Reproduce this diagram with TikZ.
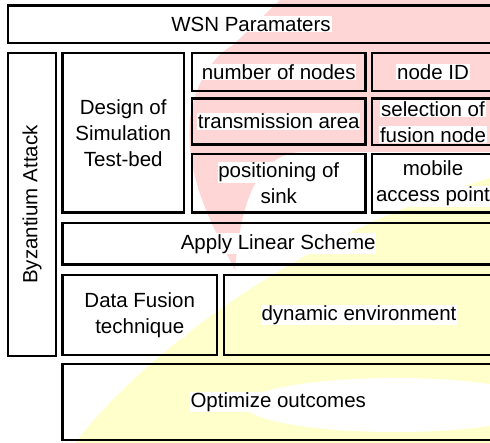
\documentclass[tikz,border=0pt]{standalone}
\usepackage{fontspec}
\setmainfont{Liberation Sans}
\definecolor{wmpink}{RGB}{255,214,214}
\definecolor{wmyellow}{RGB}{255,255,204}
\newcommand{\wbg}[1]{{\setlength{\fboxsep}{0.8pt}\colorbox{white}{#1}}}

\begin{document}
\begin{tikzpicture}[x=1pt,y=-1pt,font=\fontsize{20.5}{26}\selectfont]

\tikzset{box/.style={draw=black,line width=2.9pt,inner sep=0pt,align=center},
labelnode/.style={inner sep=0pt,align=center}}

\useasboundingbox[fill=white] (0,0) rectangle (490,443);

% Watermark behind the boxes
\fill[wmyellow] (75,443) .. controls (130,370) and (280,240) .. (490,178) -- (490,443) -- cycle;
\fill[white] (395,405) ellipse [x radius=150pt, y radius=27pt];
\fill[wmpink] (233,45) -- (280,0) -- (490,0) -- (490,152) -- (300,152) .. controls (265,155) and (242,185) .. (235,270) .. controls (215,230) and (185,180) .. (190,120) .. controls (195,80) and (215,55) .. cycle;

% Top row
\node[box,minimum width=486,minimum height=37.5] (wsn) at (251,24.25) {\wbg{WSN Paramaters}};

% Side column
\node[box,minimum width=48,minimum height=303] (byz) at (32,204.5) {};
\node[labelnode,rotate=90] (byzlabel) at (byz.center) {\wbg{Byzantium Attack}};

% Simulation test-bed and its parameters
\node[box,minimum width=121.5,minimum height=159.5] (design) at (123.25,132.75) {\wbg{Design of}\\\wbg{Simulation}\\\wbg{Test-bed}};
\node[box,minimum width=173.5,minimum height=38] (nnodes) at (278.75,72) {\wbg{number of nodes}};
\node[box,minimum width=122,minimum height=38] (nodeid) at (433,72) {\wbg{node ID}};
\node[box,minimum width=173.5,minimum height=46] (transarea) at (278.75,121.5) {\wbg{transmission area}};
\node[box,minimum width=122,minimum height=46.5] (fusionsel) at (433,121.75) {\wbg{selection of}\\\wbg{fusion node}};
\node[box,minimum width=173.5,minimum height=58.5] (sinkpos) at (278.75,183.25) {\wbg{positioning of}\\\wbg{sink}};
\node[box,minimum width=122,minimum height=58.5] (mobileap) at (433,183.25) {\wbg{mobile}\\\wbg{access point}};

% Lower rows
\node[box,minimum width=431.5,minimum height=41.5] (linear) at (278.25,243.75) {\wbg{Apply Linear Scheme}};
\node[box,minimum width=154.5,minimum height=80] (datafusion) at (139.75,315) {\wbg{Data Fusion}\\\wbg{technique}};
\node[box,minimum width=270,minimum height=80] (dynenv) at (359,315) {\wbg{dynamic environment}};
\node[box,minimum width=431.5,minimum height=76] (optimize) at (278.25,402) {\wbg{Optimize outcomes}};

\end{tikzpicture}
\end{document}
